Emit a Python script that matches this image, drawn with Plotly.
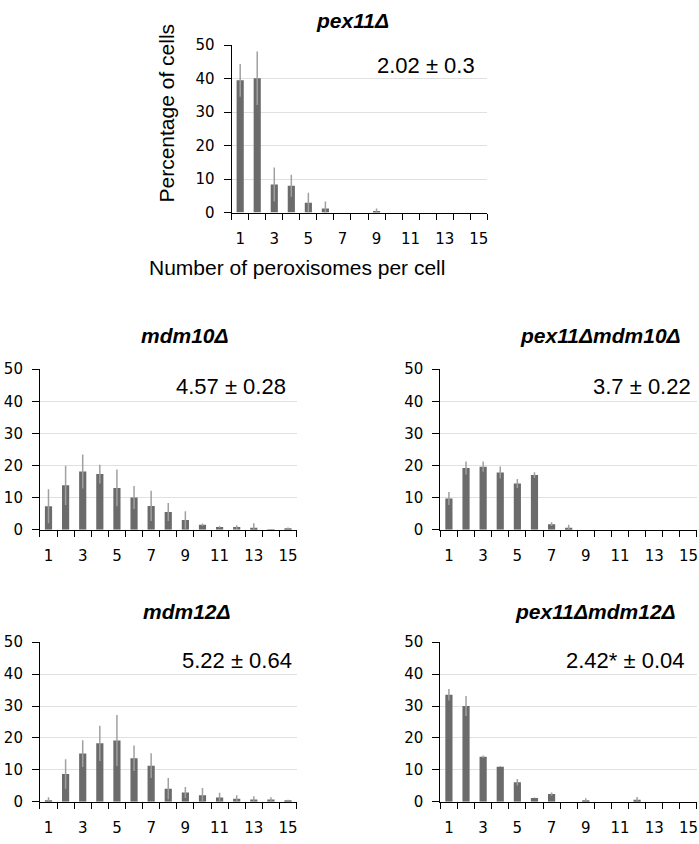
import plotly.graph_objects as go

W, H = 699, 844

categories = list(range(1, 16))
tick_vals = [1, 3, 5, 7, 9, 11, 13, 15]
tick_text = ["1", "3", "5", "7", "9", "11", "13", "15"]

pex11_vals = [39.5, 40.1, 8.4, 8.0, 2.9, 1.2, 0, 0, 0.5, 0, 0, 0, 0, 0, 0]
pex11_err = [4.9, 8.0, 5.1, 3.3, 3.0, 2.1, 0, 0, 0.7, 0, 0, 0, 0, 0, 0]

mdm10_vals = [7.3, 13.8, 18.1, 17.3, 13.0, 10.0, 7.4, 5.5, 3.0, 1.5, 0.8, 0.8, 0.6, 0.1, 0.2]
mdm10_err = [5.3, 6.1, 5.3, 2.9, 5.7, 3.6, 4.7, 2.8, 2.7, 0.4, 0.3, 0.6, 1.4, 0.1, 0.5]

pex11mdm10_vals = [9.7, 19.2, 19.6, 17.8, 14.4, 17.0, 1.7, 0.6, 0, 0, 0, 0, 0, 0, 0]
pex11mdm10_err = [2.0, 2.0, 1.6, 1.9, 1.4, 0.9, 0.6, 0.9, 0, 0, 0, 0, 0, 0, 0]

mdm12_vals = [0.4, 8.7, 15.1, 18.3, 19.2, 13.6, 11.3, 4.1, 2.9, 2.0, 1.3, 0.9, 0.7, 0.7, 0.2]
mdm12_err = [1.0, 4.6, 4.2, 5.5, 8.0, 4.0, 3.9, 3.3, 1.7, 2.3, 1.5, 1.1, 1.0, 0.7, 0.4]

pex11mdm12_vals = [33.5, 30.0, 14.1, 11.0, 6.1, 1.2, 2.4, 0, 0.4, 0, 0, 0.6, 0, 0, 0]
pex11mdm12_err = [1.8, 3.1, 0.4, 0.1, 1.0, 0.1, 0.5, 0, 0.7, 0, 0, 0.9, 0, 0, 0]

titles = ["pex11Δ", "mdm10Δ", "pex11Δmdm10Δ", "mdm12Δ", "pex11Δmdm12Δ"]
means = ["2.02 ± 0.3", "4.57 ± 0.28", "3.7 ± 0.22", "5.22 ± 0.64", "2.42* ± 0.04"]
y_title = "Percentage of cells"
x_title = "Number of peroxisomes per cell"

series = [
    (pex11_vals, pex11_err),
    (mdm10_vals, mdm10_err),
    (pex11mdm10_vals, pex11mdm10_err),
    (mdm12_vals, mdm12_err),
    (pex11mdm12_vals, pex11mdm12_err),
]

# pixel layout of each plot area: (left, right, top, bottom)
boxes = [
    (232, 488, 37, 208),
    (40, 297, 368, 532),
    (441, 698, 368, 532),
    (40, 297, 647, 810),
    (441, 698, 647, 810),
]
title_pos = [(353, 12), (185, 334), (601, 334), (187, 616), (596, 616)]
mean_pos = [(478, 58), (288, 386), (694, 386), (294, 666), (688, 666)]

BAR = "#6b6b6b"
ERR = "#a0a0a0"
TICKFONT = dict(family="DejaVu Sans", size=15, color="#000000")
TEXTFONT = "Liberation Sans, Arial, sans-serif"

def px_x(v):
    return v / W

def px_y(v):
    return 1 - v / H

fig = go.Figure()
layout = dict(
    width=W, height=H, margin=dict(l=0, r=0, t=0, b=0),
    paper_bgcolor="white", plot_bgcolor="white", showlegend=False,
)
annotations = []

for i, ((vals, errs), box) in enumerate(zip(series, boxes)):
    n = "" if i == 0 else str(i + 1)
    xa, ya = "x" + n, "y" + n
    fig.add_trace(go.Bar(
        x=categories, y=vals, xaxis=xa, yaxis=ya,
        marker=dict(color=BAR, line=dict(width=0)),
        width=0.42,
        error_y=dict(type="data", array=errs, visible=True, color=ERR,
                     thickness=1.5, width=0),
    ))
    l, r, t, b = box
    layout["xaxis" + n] = dict(
        domain=[px_x(l), px_x(r)], anchor=ya, range=[0.5, 15.5],
        tickmode="array", tickvals=tick_vals, ticktext=tick_text,
        ticks="", showgrid=False, zeroline=False,
        showline=True, linecolor="#000000", linewidth=1,
        tickfont=TICKFONT, ticklabelstandoff=12,
        minor=dict(tickmode="array", tickvals=[k + 0.5 for k in range(0, 16)],
                   ticks="outside", ticklen=6, tickcolor="#000000",
                   tickwidth=1, showgrid=False),
    )
    layout["yaxis" + n] = dict(
        domain=[px_y(b), px_y(t)], anchor=xa, range=[0, 50],
        tickvals=[0, 10, 20, 30, 40, 50], ticks="outside", ticklen=7,
        tickcolor="#000000", showgrid=True, gridcolor="#e0e0e0", gridwidth=1,
        zeroline=False, showline=True, linecolor="#000000", linewidth=1,
        tickfont=TICKFONT, ticklabelstandoff=6,
    )
    tx, ty = title_pos[i]
    annotations.append(dict(
        x=px_x(tx), y=px_y(ty), xref="paper", yref="paper", showarrow=False,
        text="<b><i>" + titles[i] + "</i></b>", xanchor="center", yanchor="middle",
        font=dict(family=TEXTFONT, size=21, color="#000000"),
    ))
    mx, my = mean_pos[i]
    annotations.append(dict(
        x=px_x(mx), y=px_y(my), xref="paper", yref="paper", showarrow=False,
        text=means[i], xanchor="right", yanchor="middle",
        font=dict(family=TEXTFONT, size=22, color="#000000"),
    ))

annotations.append(dict(
    x=px_x(167), y=px_y(106), xref="paper", yref="paper", showarrow=False,
    text=y_title, textangle=-90, xanchor="center", yanchor="middle",
    font=dict(family=TEXTFONT, size=21, color="#000000"),
))
annotations.append(dict(
    x=px_x(297), y=px_y(264), xref="paper", yref="paper", showarrow=False,
    text=x_title, xanchor="center", yanchor="middle",
    font=dict(family=TEXTFONT, size=21, color="#000000"),
))
layout["annotations"] = annotations
fig.update_layout(**layout)
fig.write_html(
    "out.html",
    config={"displayModeBar": False},
    post_script="document.body.style.margin='0';document.body.style.overflow='hidden';",
)
